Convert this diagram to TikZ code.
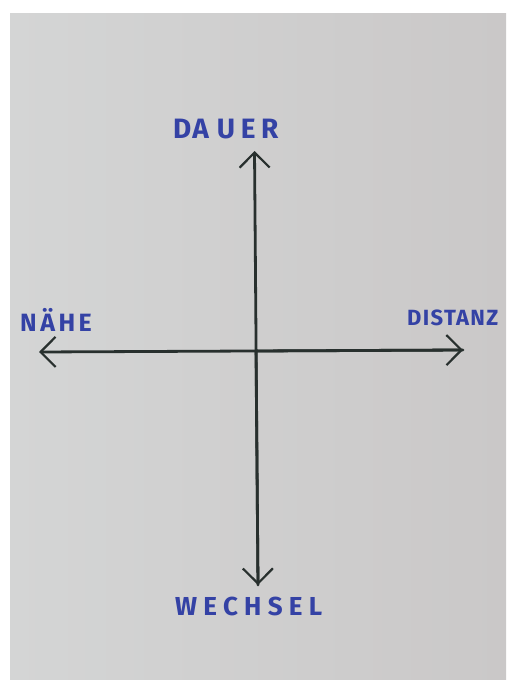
\documentclass[tikz,border=0pt]{standalone}
\usepackage{fontspec}
\setmainfont{Fira Sans}
\usetikzlibrary{arrows.meta}
\definecolor{paperL}{RGB}{212,213,213}
\definecolor{paperR}{RGB}{202,200,200}
\definecolor{ink}{RGB}{52,66,165}
\definecolor{marker}{RGB}{40,48,46}
\tikzset{
  axis/.style={draw=marker, line width=2.8pt, line cap=round,
    -{Straight Barb[length=15pt, width=30pt, line width=2.2pt]}},
  word/.style={text=ink, inner sep=0pt, anchor=base west,
    font=\bfseries\fontsize{28}{28}\selectfont\addfontfeatures{LetterSpace=20}}
}
\begin{document}
\begin{tikzpicture}[x=1pt,y=-1pt]
\useasboundingbox (0,0) rectangle (506,680);
\fill[white] (0,0) rectangle (506,680);
\shade[left color=paperL, right color=paperR] (10,13) rectangle (506,680);
\coordinate (c) at (256,351);
\coordinate (top) at (254.5,151);
\coordinate (bot) at (258,585);
\coordinate (lft) at (39,352);
\coordinate (rgt) at (463,350);
\coordinate (vt) at (256,351);
\draw[axis] (bot) -- (top);
\draw[axis] (vt) -- (bot);
\draw[axis] (rgt) -- (lft);
\draw[axis] (c) -- (rgt);
\node[word] (dauer) at (173,138) {D\kern1pt A\kern8pt UER};
\node[word, font=\bfseries\fontsize{25}{25}\selectfont\addfontfeatures{LetterSpace=14}] (naehe) at (20,331) {NÄHE};
\node[word, font=\bfseries\fontsize{22}{22}\selectfont\addfontfeatures{LetterSpace=6}] (distanz) at (407,325) {DISTANZ};
\node[word, font=\bfseries\fontsize{26}{26}\selectfont\addfontfeatures{LetterSpace=24}] (wechsel) at (175,615) {WECHSEL};
\end{tikzpicture}
\end{document}
